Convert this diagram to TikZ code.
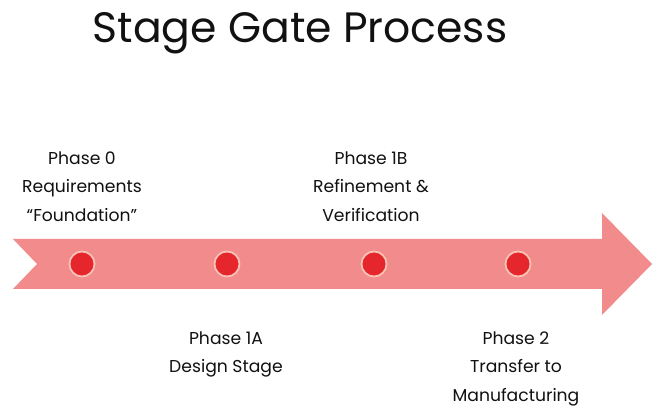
\documentclass[tikz,border=0pt]{standalone}
\usepackage{fontspec}
\setmainfont{Poppins}
\definecolor{arrowfill}{HTML}{F28C8C}
\definecolor{dotred}{HTML}{E5262C}
\definecolor{dotring}{HTML}{F8C2B4}
\definecolor{txt}{HTML}{111111}
\begin{document}
\begin{tikzpicture}[x=1pt,y=-1pt,
  dot/.style={circle,fill=dotred,draw=dotring,line width=1.8pt,minimum size=25pt,inner sep=0pt},
  label/.style={align=center,text=txt,font=\fontsize{17.2}{28.5}\selectfont,inner sep=0pt},
  title/.style={text=txt,font=\fontsize{42.5}{48}\selectfont,inner sep=0pt}]
\useasboundingbox (0,0) rectangle (662,419);
\fill[white] (0,0) rectangle (662,419);
\node[title,anchor=base] (t) at (300,43) {Stage Gate Process};
\fill[arrowfill] (13,239) -- (602,239) -- (602,213) -- (652,264) -- (602,315) -- (602,289) -- (13,289) -- (37,264) -- cycle;
\node[dot] (d0) at (82,264) {};
\node[dot] (d1a) at (227,264) {};
\node[dot] (d1b) at (374,264) {};
\node[dot] (d2) at (518,264) {};
\node[label,anchor=north] (l0) at (82,151.5) {Phase 0\\Requirements\\“Foundation”};
\node[label,anchor=north] (l1b) at (371,151.5) {Phase 1B\\Refinement \&\\Verification};
\node[label,anchor=north] (l1a) at (226,331.5) {Phase 1A\\Design Stage};
\node[label,anchor=north] (l2) at (516,331.5) {Phase 2\\Transfer to\\Manufacturing};
\end{tikzpicture}
\end{document}
